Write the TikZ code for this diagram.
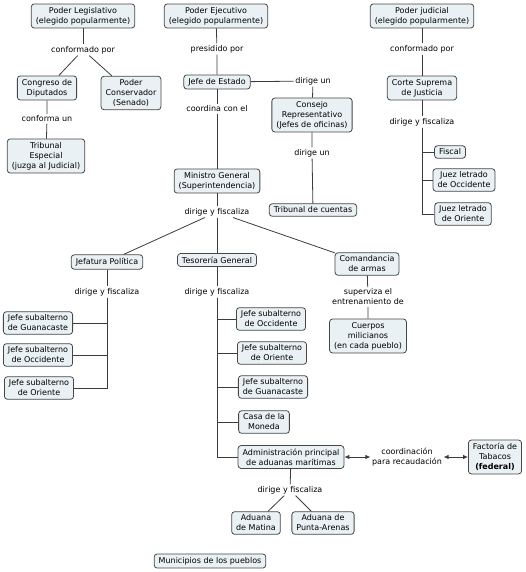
\documentclass[tikz,border=0pt]{standalone}
\usepackage{fontspec}
\setmainfont{DejaVu Sans}
\usetikzlibrary{arrows.meta}

\definecolor{boxfill}{HTML}{E9F1F4}
\definecolor{boxline}{HTML}{474747}
\definecolor{linkline}{HTML}{3C3C3C}

\tikzset{
	concept/.style={draw=boxline,fill=boxfill,rounded corners=3pt,align=center,
		inner xsep=4.5pt,inner ysep=3.2pt,line width=0.8pt,
		font=\fontsize{8}{10}\selectfont},
	phrase/.style={align=center,inner sep=1.5pt,fill=white,
		font=\fontsize{8}{10}\selectfont},
	link/.style={draw=linkline,line width=0.8pt},
	both/.style={link,{Latex[length=5pt,width=4.5pt]}-{Latex[length=5pt,width=4.5pt]}}
}

\begin{document}
\begin{tikzpicture}[x=1pt,y=-1pt]
	\useasboundingbox (0,0) rectangle (525,572);

	% three powers
	\node[concept] (leg) at (83,16) {Poder Legislativo\\(elegido popularmente)};
	\node[concept] (eje) at (216,16) {Poder Ejecutivo\\(elegido popularmente)};
	\node[concept] (jud) at (422,16) {Poder judicial\\(elegido popularmente)};

	% legislative branch
	\node[phrase] (legpor) at (83,50) {conformado por};
	\node[concept] (congreso) at (47,88) {Congreso de\\Diputados};
	\node[concept] (senado) at (131,93) {Poder\\Conservador\\(Senado)};
	\node[phrase] (congun) at (47,119) {conforma un};
	\node[concept] (especial) at (46,156) {Tribunal\\Especial\\(juzga al Judicial)};
	\draw[link] (leg) -- (legpor);
	\draw[link] (legpor) -- (congreso);
	\draw[link] (legpor) -- (senado);
	\draw[link] (congreso) -- (congun) -- (especial);

	% executive branch
	\node[phrase] (ejepor) at (217,49) {presidido por};
	\node[concept] (jefe) at (217,82) {Jefe de Estado};
	\node[phrase] (jefeun) at (313,81) {dirige un};
	\node[concept] (consejo) at (312,115) {Consejo\\Representativo\\(Jefes de oficinas)};
	\node[phrase] (consun) at (312,153) {dirige un};
	\node[concept] (cuentas) at (313,210) {Tribunal de cuentas};
	\node[phrase] (jefecon) at (217,109) {coordina con el};
	\node[concept] (ministro) at (217,181) {Ministro General\\(Superintendencia)};
	\node[phrase] (minfis) at (217,212) {dirige y fiscaliza};
	\draw[link] (eje) -- (ejepor) -- (jefe);
	\draw[link] (jefe) -- (jefeun);
	\draw[link] (jefeun) -- (consejo);
	\draw[link] (consejo) -- (consun) -- (cuentas);
	\draw[link] (jefe) -- (jefecon) -- (ministro);
	\draw[link] (ministro) -- (minfis);

	% under the Ministro General
	\node[concept] (jefatura) at (107,262) {Jefatura Política};
	\node[concept] (tesoreria) at (217,260) {Tesorería General};
	\node[concept] (comandancia) at (367,264) {Comandancia\\de armas};
	\draw[link] (minfis) -- (jefatura);
	\draw[link] (minfis) -- (tesoreria);
	\draw[link] (minfis) -- (comandancia);

	% Jefatura Politica
	\node[phrase] (jpfis) at (107,292) {dirige y fiscaliza};
	\node[concept] (jpguana) at (38,323) {Jefe subalterno\\de Guanacaste};
	\node[concept] (jpocci) at (38,355) {Jefe subalterno\\de Occidente};
	\node[concept] (jpori) at (39,388) {Jefe subalterno\\de Oriente};
	\draw[link] (jefatura) -- (jpfis);
	\draw[link] (jpfis.south) |- (jpguana.east);
	\draw[link] (jpfis.south) |- (jpocci.east);
	\draw[link] (jpfis.south) |- (jpori.east);

	% Tesoreria General
	\node[phrase] (tgfis) at (217,292) {dirige y fiscaliza};
	\node[concept] (tgocci) at (271,319) {Jefe subalterno\\de Occidente};
	\node[concept] (tgori) at (272,353) {Jefe subalterno\\de Oriente};
	\node[concept] (tgguana) at (273,387) {Jefe subalterno\\de Guanacaste};
	\node[concept] (moneda) at (264,422) {Casa de la\\Moneda};
	\node[concept] (aduanas) at (291,457) {Administración principal\\de aduanas marítimas};
	\draw[link] (tesoreria) -- (tgfis);
	\draw[link] (tgfis.south) |- (tgocci.west);
	\draw[link] (tgfis.south) |- (tgori.west);
	\draw[link] (tgfis.south) |- (tgguana.west);
	\draw[link] (tgfis.south) |- (moneda.west);
	\draw[link] (tgfis.south) |- (aduanas.west);

	% customs
	\node[phrase] (recauda) at (407,457) {coordinación\\para recaudación};
	\node[concept] (tabacos) at (495,457) {Factoría de\\Tabacos\\\textbf{(federal)}};
	\draw[both] (aduanas) -- (recauda);
	\draw[both] (recauda) -- (tabacos);
	\node[phrase] (adfis) at (290,490) {dirige y fiscaliza};
	\node[concept] (matina) at (256,523) {Aduana\\de Matina};
	\node[concept] (puntarenas) at (323,523) {Aduana de\\Punta-Arenas};
	\draw[link] (aduanas) -- (adfis);
	\draw[link] (adfis) -- (matina);
	\draw[link] (adfis) -- (puntarenas);

	% Comandancia de armas
	\node[phrase] (cmsup) at (368,297) {superviza el\\entrenamiento de};
	\node[concept] (milicias) at (368,336) {Cuerpos\\milicianos\\(en cada pueblo)};
	\draw[link] (comandancia) -- (cmsup) -- (milicias);

	% judicial branch
	\node[phrase] (judpor) at (422,49) {conformado por};
	\node[concept] (corte) at (422,88) {Corte Suprema\\de Justicia};
	\node[phrase] (ctfis) at (422,122) {dirige y fiscaliza};
	\node[concept] (fiscal) at (450,152) {Fiscal};
	\node[concept] (juezocci) at (464,180) {Juez letrado\\de Occidente};
	\node[concept] (juezori) at (463,214) {Juez letrado\\de Oriente};
	\draw[link] (jud) -- (judpor) -- (corte);
	\draw[link] (corte) -- (ctfis);
	\draw[link] (ctfis.south) |- (fiscal.west);
	\draw[link] (ctfis.south) |- (juezocci.west);
	\draw[link] (ctfis.south) |- (juezori.west);

	\node[concept] (municipios) at (210,561) {Municipios de los pueblos};
\end{tikzpicture}
\end{document}
